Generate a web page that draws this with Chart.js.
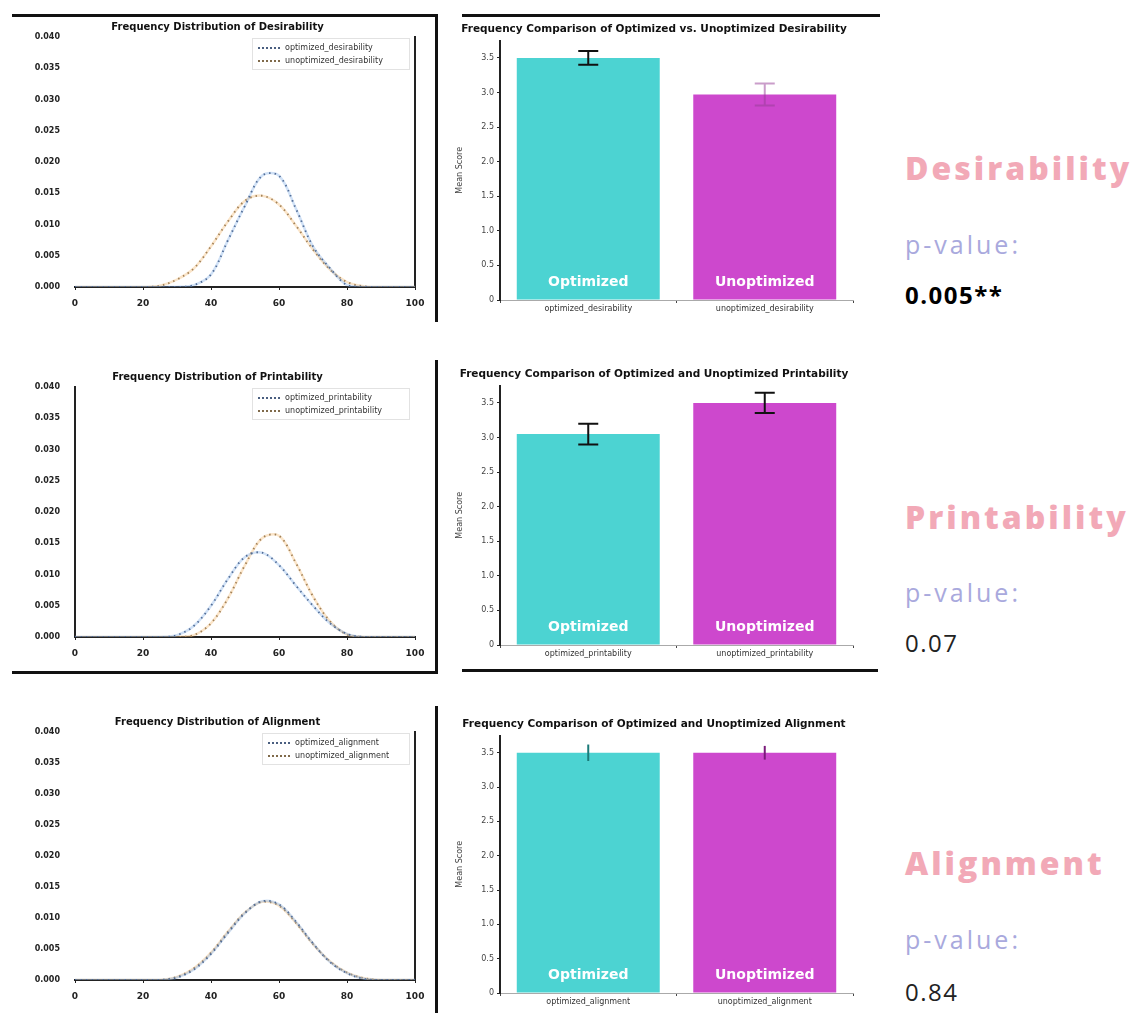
<!DOCTYPE html>
<html lang="en">
<head>
<meta charset="UTF-8">
<title>Optimized vs Unoptimized</title>
<script src="https://cdn.jsdelivr.net/npm/chart.js"></script>
<style>
  body { margin: 0; background: #fff; font-family: "DejaVu Sans", sans-serif; }
  #page { position: relative; width: 1138px; height: 1013px; overflow: hidden; }
  .frame { position: absolute; box-sizing: border-box; border: 0 solid #111; }
  canvas { position: absolute; }
  .legend { position: absolute; border: 1px solid #e2e2e2; background: rgba(255,255,255,0.9);
            font-size: 8px; color: #333; padding: 2px 5px; line-height: 13px; }
  .legend span.sw { display: inline-block; width: 22px; border-top: 2px dotted #556; vertical-align: middle; margin-right: 5px; }
  .side { position: absolute; left: 905px; }
  .metric { font-family: "Open Sans", sans-serif; font-weight: 800; font-size: 32px; color: #f2a9b7; letter-spacing: 3px; }
  .plabel { font-family: "Open Sans", sans-serif; font-size: 25px; color: #a9a9dd; letter-spacing: 3px; }
  .pval { font-family: "Open Sans", sans-serif; font-size: 24px; color: #222; letter-spacing: 1.5px; }
</style>
</head>
<body>
<div id="page">
  <div class="frame" style="left:12px;top:14px;width:426px;height:308px;border-top-width:3px;border-right-width:3px;"></div>
  <div class="frame" style="left:12px;top:360px;width:426px;height:314px;border-right-width:3px;border-bottom-width:3px;"></div>
  <div class="frame" style="left:12px;top:706px;width:426px;height:310px;border-right-width:3px;"></div>
  <div class="frame" style="left:462px;top:14px;width:418px;height:10px;border-top-width:3px;"></div>
  <div class="frame" style="left:462px;top:660px;width:416px;height:12px;border-bottom-width:3px;"></div>

  <canvas id="dist1" width="415" height="305" style="left:20px;top:15px"></canvas>
  <canvas id="dist2" width="415" height="305" style="left:20px;top:365px"></canvas>
  <canvas id="dist3" width="415" height="303" style="left:20px;top:710px"></canvas>
  <canvas id="bar1" width="425" height="305" style="left:455px;top:15px"></canvas>
  <canvas id="bar2" width="425" height="305" style="left:455px;top:360px"></canvas>
  <canvas id="bar3" width="425" height="303" style="left:455px;top:710px"></canvas>

  <div class="legend" style="left:252px;top:38px;width:146px">
    <div><span class="sw" style="border-top-color:#4a5f80"></span>optimized_desirability</div>
    <div><span class="sw" style="border-top-color:#806a4a"></span>unoptimized_desirability</div>
  </div>
  <div class="legend" style="left:252px;top:388px;width:146px">
    <div><span class="sw" style="border-top-color:#4a5f80"></span>optimized_printability</div>
    <div><span class="sw" style="border-top-color:#806a4a"></span>unoptimized_printability</div>
  </div>
  <div class="legend" style="left:262px;top:733px;width:136px">
    <div><span class="sw" style="border-top-color:#4a5f80"></span>optimized_alignment</div>
    <div><span class="sw" style="border-top-color:#806a4a"></span>unoptimized_alignment</div>
  </div>

  <div class="side metric" style="top:146px">Desirability</div>
  <div class="side plabel" style="top:227px">p-value:</div>
  <div class="side pval" style="top:278px;font-weight:700;color:#000">0.005**</div>

  <div class="side metric" style="top:495px">Printability</div>
  <div class="side plabel" style="top:575px">p-value:</div>
  <div class="side pval" style="top:626px">0.07</div>

  <div class="side metric" style="top:841px">Alignment</div>
  <div class="side plabel" style="top:922px">p-value:</div>
  <div class="side pval" style="top:975px">0.84</div>
</div>

<script>
// score grid for the distribution curves
const scores = [0, 5, 10, 15, 20, 25, 30, 35, 40, 45, 50, 55, 60, 65, 70, 75, 80, 85, 90, 95, 100];

const desOptDensity   = [0, 0, 0, 0, 0, 0, 0, 0.0003, 0.002, 0.0075, 0.013, 0.0178, 0.0178, 0.0125, 0.0065, 0.003, 0.0003, 0, 0, 0, 0];
const desUnoptDensity = [0, 0, 0, 0, 0, 0.0002, 0.0012, 0.003, 0.0065, 0.0105, 0.0138, 0.0146, 0.0132, 0.0098, 0.006, 0.0028, 0.0008, 0.0001, 0, 0, 0];
const priOptDensity   = [0, 0, 0, 0, 0, 0, 0.0003, 0.0018, 0.005, 0.0093, 0.0128, 0.0135, 0.0115, 0.0082, 0.005, 0.0022, 0.0005, 0, 0, 0, 0];
const priUnoptDensity = [0, 0, 0, 0, 0, 0, 0, 0.0003, 0.0022, 0.0062, 0.0115, 0.0158, 0.0162, 0.0118, 0.0065, 0.0025, 0.0004, 0, 0, 0, 0];
const aliOptDensity   = [0, 0, 0, 0, 0, 0, 0.0004, 0.0017, 0.0042, 0.0076, 0.0108, 0.0127, 0.0122, 0.0094, 0.0059, 0.0029, 0.0011, 0.0002, 0, 0, 0];
const aliUnoptDensity = [0, 0, 0, 0, 0, 0, 0.0005, 0.0019, 0.0044, 0.0078, 0.0109, 0.0126, 0.012, 0.0092, 0.0058, 0.003, 0.0012, 0.0003, 0, 0, 0];

const scoreTicks   = [0, 20, 40, 60, 80, 100];
const densityTicks = [0, 0.005, 0.01, 0.015, 0.02, 0.025, 0.03, 0.035, 0.04];

// bar charts
const groups     = ['Optimized', 'Unoptimized'];
const desCats    = ['optimized_desirability', 'unoptimized_desirability'];
const priCats    = ['optimized_printability', 'unoptimized_printability'];
const aliCats    = ['optimized_alignment', 'unoptimized_alignment'];
const desMeans   = [3.5, 2.97];
const desErr     = [0.1, 0.16];
const priMeans   = [3.05, 3.5];
const priErr     = [0.15, 0.145];
const aliMeans   = [3.5, 3.5];
const aliErr     = [0.12, 0.1];
const meanTicks  = [0, 0.5, 1, 1.5, 2, 2.5, 3, 3.5];

Chart.defaults.font.family = '"DejaVu Sans", sans-serif';
Chart.defaults.color = '#222';

function pts(ys) {
  return scores.map((x, i) => ({ x: x, y: ys[i] }));
}

function distChart(id, title, optY, unoptY, rightLine) {
  const curve = (ys, faint, dark) => [
    { data: pts(ys), borderColor: faint, borderWidth: 2.5, pointRadius: 0, tension: 0.35 },
    { data: pts(ys), borderColor: dark, borderWidth: 1.8, borderDash: [1.5, 4], pointRadius: 0, tension: 0.35 }
  ];
  const scales = {
    x: {
      type: 'linear', min: 0, max: 100,
      afterBuildTicks: s => { s.ticks = scoreTicks.map(v => ({ value: v })); },
      afterFit: s => { s.height = 33; },
      grid: { display: true, drawOnChartArea: false, tickLength: 3, color: '#222' },
      border: { display: true, color: '#222', width: 2 },
      ticks: { font: { size: 9, weight: 'bold' }, padding: 8 }
    },
    y: {
      min: 0, max: 0.04,
      afterBuildTicks: s => { s.ticks = densityTicks.map(v => ({ value: v })); },
      afterFit: s => { s.width = 55; },
      grid: { display: false },
      border: { display: !rightLine, color: '#222', width: 2 },
      ticks: { font: { size: 8, weight: 'bold' }, padding: 7, callback: v => v.toFixed(3) }
    }
  };
  if (rightLine) {
    scales.yR = {
      position: 'right', display: true, min: 0, max: 0.04,
      afterFit: s => { s.width = 0; },
      grid: { display: false },
      border: { display: true, color: '#222', width: 2 },
      ticks: { display: false }
    };
  }
  new Chart(document.getElementById(id), {
    type: 'line',
    data: { datasets: [].concat(curve(optY, 'rgba(120,170,230,0.35)', '#3c4c6c'), curve(unoptY, 'rgba(245,190,120,0.4)', '#6c5a44')) },
    options: {
      responsive: false, animation: false, devicePixelRatio: 1,
      layout: { padding: { right: 20, left: 0 } },
      plugins: {
        legend: { display: false },
        tooltip: { enabled: false },
        title: { display: true, text: title, font: { size: 10, weight: 'bold' }, color: '#111', padding: { top: 6, bottom: 4 } }
      },
      scales: scales
    }
  });
}

const barLabels = {
  id: 'barLabels',
  afterDatasetsDraw(chart, args, opts) {
    const ctx = chart.ctx;
    const meta = chart.getDatasetMeta(0);
    const ys = chart.scales.y;
    ctx.save();
    // error bars
    meta.data.forEach((bar, i) => {
      const m = opts.means[i], e = opts.err[i];
      const top = ys.getPixelForValue(m + e), bot = ys.getPixelForValue(m - e);
      ctx.strokeStyle = opts.errColors[i];
      ctx.lineWidth = 2;
      ctx.beginPath();
      ctx.moveTo(bar.x, top); ctx.lineTo(bar.x, bot);
      if (opts.caps) {
        ctx.moveTo(bar.x - 10, top); ctx.lineTo(bar.x + 10, top);
        ctx.moveTo(bar.x - 10, bot); ctx.lineTo(bar.x + 10, bot);
      }
      ctx.stroke();
    });
    // group names inside the bars
    ctx.fillStyle = '#fff';
    ctx.font = 'bold 14px "DejaVu Sans", sans-serif';
    ctx.textAlign = 'center';
    ctx.textBaseline = 'middle';
    meta.data.forEach((bar, i) => {
      ctx.fillText(groups[i], bar.x, bar.base - 17);
    });
    ctx.restore();
  }
};

function barChart(id, title, cats, means, err, errColors, caps) {
  new Chart(document.getElementById(id), {
    type: 'bar',
    data: {
      labels: cats,
      datasets: [{
        data: means,
        backgroundColor: ['#4cd3d2', '#cd48cd'],
        barPercentage: 0.81, categoryPercentage: 1
      }]
    },
    options: {
      responsive: false, animation: false, devicePixelRatio: 1,
      layout: { padding: { right: 27 } },
      plugins: {
        legend: { display: false },
        tooltip: { enabled: false },
        title: { display: true, text: title, font: { size: 10.5, weight: 'bold' }, color: '#111', padding: { top: 8, bottom: 5 } },
        barLabels: { means: means, err: err, errColors: errColors, caps: caps }
      },
      scales: {
        x: {
          afterFit: s => { s.height = 20; },
          grid: { display: true, drawOnChartArea: false, tickLength: 3, color: '#444' },
          border: { display: true, color: '#aaa', width: 1 },
          ticks: { font: { size: 8 }, padding: 1, color: '#333' }
        },
        y: {
          min: 0, max: 3.75,
          afterBuildTicks: s => { s.ticks = meanTicks.map(v => ({ value: v })); },
          afterFit: s => { s.width = 45; },
          grid: { display: true, drawOnChartArea: false, tickLength: 3, color: '#222' },
          border: { display: true, color: '#222', width: 2 },
          ticks: { font: { size: 8 }, color: '#444', callback: v => v === 0 ? '0' : v.toFixed(1) },
          title: { display: true, text: 'Mean Score', font: { size: 8 }, padding: 0, color: '#444' }
        }
      }
    },
    plugins: [barLabels]
  });
}

distChart('dist1', 'Frequency Distribution of Desirability', desOptDensity, desUnoptDensity, true);
distChart('dist2', 'Frequency Distribution of Printability', priOptDensity, priUnoptDensity, false);
distChart('dist3', 'Frequency Distribution of Alignment', aliOptDensity, aliUnoptDensity, true);

barChart('bar1', 'Frequency Comparison of Optimized vs. Unoptimized Desirability', desCats, desMeans, desErr, ['#111', 'rgba(150,60,150,0.5)'], true);
barChart('bar2', 'Frequency Comparison of Optimized and Unoptimized Printability', priCats, priMeans, priErr, ['#111', '#111'], true);
barChart('bar3', 'Frequency Comparison of Optimized and Unoptimized Alignment', aliCats, aliMeans, aliErr, ['#1a7a78', '#7a1a7a'], false);
</script>
</body>
</html>
